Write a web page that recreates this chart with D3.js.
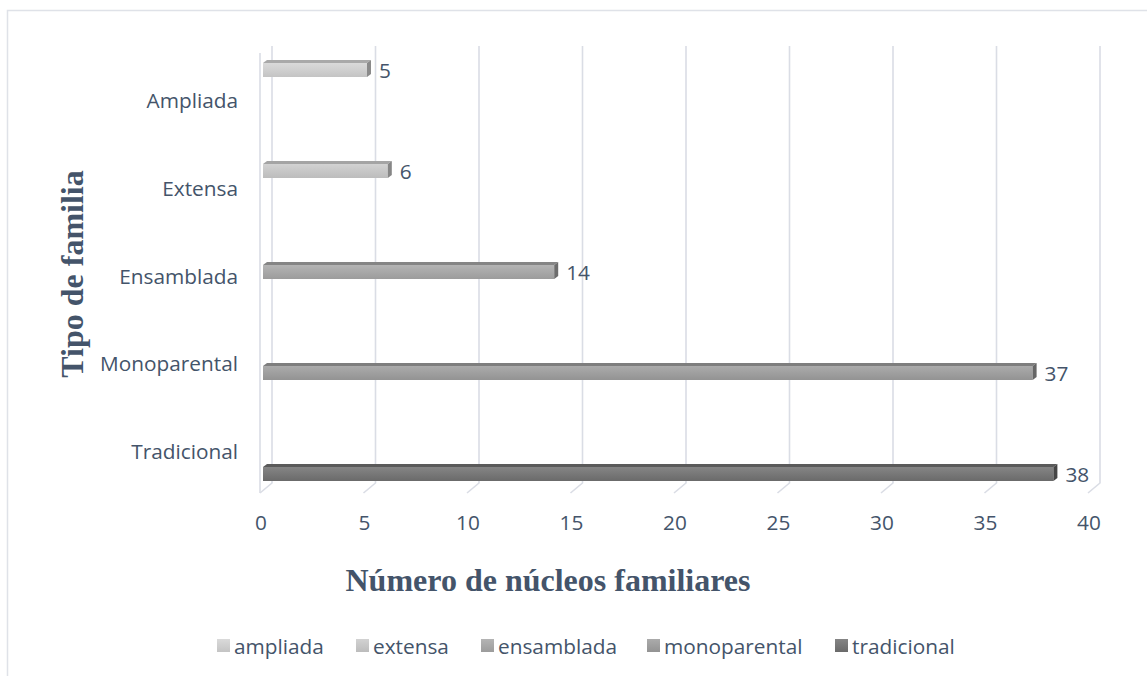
<!DOCTYPE html>
<html>
<head>
<meta charset="utf-8">
<script src="https://cdn.jsdelivr.net/npm/d3@7/dist/d3.min.js"></script>
<style>
  html, body { margin: 0; padding: 0; background: #fff; }
  svg { display: block; }
</style>
</head>
<body>
<svg id="chart" width="1147" height="676"></svg>
<script>
// Family types, listed from top to bottom as drawn
const categories = ["Ampliada", "Extensa", "Ensamblada", "Monoparental", "Tradicional"];
const seriesNames = ["ampliada", "extensa", "ensamblada", "monoparental", "tradicional"];
const values = [5, 6, 14, 37, 38];
const xTicks = [0, 5, 10, 15, 20, 25, 30, 35, 40];

// Shades per series: [front light, front dark, top, side]
const shades = {
  ampliada:     ["#dadada", "#c4c4c4", "#a9a9a9", "#8a8a8a"],
  extensa:      ["#d2d2d2", "#bcbcbc", "#a4a4a4", "#868686"],
  ensamblada:   ["#b4b4b4", "#9c9c9c", "#858585", "#6c6c6c"],
  monoparental: ["#ababab", "#939393", "#7e7e7e", "#666666"],
  tradicional:  ["#858585", "#6a6a6a", "#5a5a5a", "#454545"]
};

const svg = d3.select("#chart");
const textColor = "#44546a";
const gridColor = "#dadde5";
const sans = "'Open Sans', sans-serif";
const serif = "'Liberation Serif', 'Times New Roman', serif";
const labelSize = 20.8;
const titleSize = 32;

// Outer frame
svg.append("rect").attr("x", 7.5).attr("y", 10.5).attr("width", 1200).attr("height", 700)
  .attr("fill", "none").attr("stroke", "#dfe2e8").attr("stroke-width", 1.5);

// Scales: back wall, front floor edge and bar front faces
const xBack = d3.scaleLinear().domain([0, 40]).range([272, 1100]);
const xFront = d3.scaleLinear().domain([0, 40]).range([260, 1088]);
const xBar = d3.scaleLinear().domain([0, 40]).range([263, 1095]);
const yBar = d3.scalePoint().domain(categories).range([63, 467]);
const yLabel = d3.scalePoint().domain(categories).range([100, 451]);

const wallTop = 46, wallBottom = 483, floorFront = 493;

// Gridlines on the back wall, folding onto the floor
const grid = svg.append("g");
xTicks.forEach(t => {
  grid.append("path")
    .attr("d", `M${xBack(t)},${wallTop} L${xBack(t)},${wallBottom} L${xFront(t)},${floorFront}`)
    .attr("fill", "none").attr("stroke", gridColor).attr("stroke-width", 1.6);
});
// Front edge of the side wall
grid.append("line")
  .attr("x1", xFront(0)).attr("x2", xFront(0)).attr("y1", wallTop + 7).attr("y2", floorFront)
  .attr("stroke", gridColor).attr("stroke-width", 1.6);

// Gradients for the bar front faces
const defs = svg.append("defs");
seriesNames.forEach(s => {
  const g = defs.append("linearGradient").attr("id", "g-" + s)
    .attr("x1", 0).attr("y1", 0).attr("x2", 0).attr("y2", 1);
  g.append("stop").attr("offset", "0%").attr("stop-color", shades[s][0]);
  g.append("stop").attr("offset", "100%").attr("stop-color", shades[s][1]);
});

// 3D bars
const barH = 14, dx = 4, dy = 3;
const bars = svg.append("g");
categories.forEach((c, i) => {
  const s = seriesNames[i];
  const x0 = xBar(0), x1 = xBar(values[i]), y = yBar(c);
  // top face
  bars.append("path")
    .attr("d", `M${x0},${y} L${x0 + dx},${y - dy} L${x1 + dx},${y - dy} L${x1},${y} Z`)
    .attr("fill", shades[s][2]);
  // front face
  bars.append("rect").attr("x", x0).attr("y", y).attr("width", x1 - x0).attr("height", barH)
    .attr("fill", `url(#g-${s})`);
  // side face
  bars.append("path")
    .attr("d", `M${x1},${y} L${x1 + dx},${y - dy} L${x1 + dx},${y + barH - dy} L${x1},${y + barH} Z`)
    .attr("fill", shades[s][3]);
  // value label
  svg.append("text")
    .attr("x", x1 + 12).attr("y", y + 7)
    .attr("dominant-baseline", "central")
    .attr("font-family", sans).attr("font-size", labelSize)
    .attr("fill", textColor)
    .text(values[i]);
});

// Category labels
categories.forEach(c => {
  svg.append("text")
    .attr("x", 238).attr("y", yLabel(c))
    .attr("text-anchor", "end").attr("dominant-baseline", "central")
    .attr("font-family", sans).attr("font-size", labelSize)
    .attr("fill", textColor)
    .text(c);
});

// Value axis tick labels
xTicks.forEach(t => {
  svg.append("text")
    .attr("x", xFront(t) + 1).attr("y", 522)
    .attr("text-anchor", "middle").attr("dominant-baseline", "central")
    .attr("font-family", sans).attr("font-size", labelSize)
    .attr("fill", textColor)
    .text(t);
});

// Axis titles
svg.append("text")
  .attr("transform", "translate(72,274) rotate(-90)")
  .attr("text-anchor", "middle").attr("dominant-baseline", "central")
  .attr("font-family", serif)
  .attr("font-weight", "bold").attr("font-size", titleSize)
  .attr("fill", textColor)
  .text("Tipo de familia");

svg.append("text")
  .attr("x", 548).attr("y", 580)
  .attr("text-anchor", "middle").attr("dominant-baseline", "central")
  .attr("font-family", serif)
  .attr("font-weight", "bold").attr("font-size", titleSize)
  .attr("fill", textColor)
  .text("Número de núcleos familiares");

// Legend
const legendX = [217, 356, 481, 647, 835];
const legend = svg.append("g");
seriesNames.forEach((s, i) => {
  legend.append("rect").attr("x", legendX[i]).attr("y", 639).attr("width", 13).attr("height", 13)
    .attr("fill", `url(#g-${s})`);
  legend.append("text")
    .attr("x", legendX[i] + 17).attr("y", 646)
    .attr("dominant-baseline", "central")
    .attr("font-family", sans).attr("font-size", labelSize)
    .attr("fill", textColor)
    .text(s);
});
</script>
</body>
</html>
